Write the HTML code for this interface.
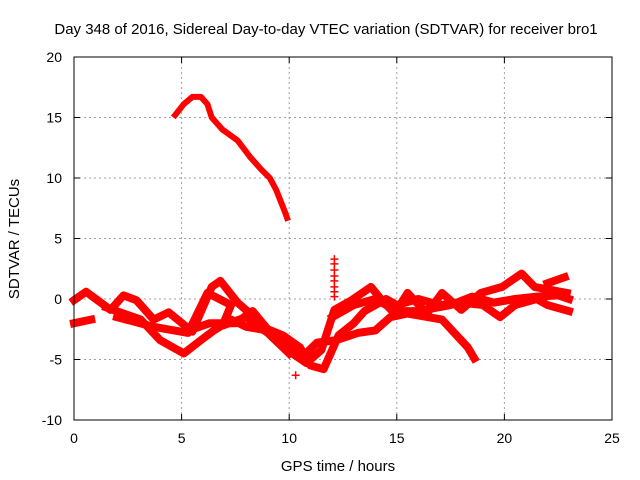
<!DOCTYPE html>
<html><head><meta charset="utf-8"><style>
body{margin:0;background:#fff;}
svg{display:block;font-family:"Liberation Sans",sans-serif;}
</style></head><body>
<svg id="chart" width="640" height="480">
<text x="326" y="34" font-size="15" text-anchor="middle">Day 348 of 2016, Sidereal Day-to-day VTEC variation (SDTVAR) for receiver bro1</text>
<text x="338" y="471" font-size="15" text-anchor="middle">GPS time / hours</text>
<text transform="translate(19,239) rotate(-90)" font-size="15" text-anchor="middle">SDTVAR / TECUs</text>
<g id="grid"></g><g id="ticks"></g><g id="marks"></g>
<rect x="74" y="57" width="538" height="363" fill="none" stroke="#000" stroke-width="1"/>
</svg>
<script>
const xTicks=[0,5,10,15,20,25];
const yTicks=[-10,-5,0,5,10,15,20];
const seriesTop=[[4.7,15.2],[5.1,16.1],[5.5,16.7],[5.9,16.7],[6.2,16.1],[6.4,15],[6.9,14],[7.6,13.1],[8.2,11.7],[8.7,10.7],[9.1,10],[9.4,9],[9.8,7.2],[9.9,6.7]];
const seriesA=[[0,-0.1],[0.56,0.6],[1.7,-0.9],[2.3,0.3],[2.9,-0.1],[3.7,-1.7],[4.4,-1.1],[5.5,-2.7],[6.4,1.0],[6.8,1.5],[7.6,-0.3],[8.7,-2],[9.9,-4.2],[10.8,-5.3],[11.5,-4.2],[12.1,-0.9],[12.9,-0.1],[13.8,1],[14.3,-0.1],[14.9,-1.2],[15.5,0.5],[16.4,-1.2],[17.1,0.5],[18,-0.9],[18.9,0.5],[19.9,1],[20.8,2.1],[21.4,1],[22.9,0.5]];
const seriesB=[[1.5,-0.7],[3.1,-1.7],[4,-3.4],[5.1,-4.5],[5.9,-3.4],[6.5,-2.6],[7.3,-1.7],[8,-2.3],[9,-2.6],[9.8,-3.6],[10.6,-4.8],[11.3,-3.6],[12.2,-3.4],[13.2,-2.8],[14,-2.6],[14.7,-1.5],[15.5,-1.2],[17.1,-1.7],[18.3,-4],[18.6,-4.9]];
const seriesC=[[0,-2],[0.8,-1.7]];
const seriesD=[[2,-1.5],[3.7,-2.3],[5.3,-2.8],[6.2,0.5],[7.3,-0.5],[6.9,-2.2],[8,-1.5],[9,-2.8],[10,-4.5]];
const seriesE=[[5.5,-2.5],[6.3,-2],[7.5,-2],[8.3,-1],[9,-2.5],[9.7,-3],[10.5,-4],[11,-5.5],[11.6,-5.8],[12.3,-3],[13,-2],[13.5,-1],[14.5,0],[15,-0.5],[16,0],[17,-0.5],[18,-0.3],[19,-0.5],[19.8,-1.5],[20.5,-0.5],[21.5,0],[22,-0.5],[23,-1]];
const seriesF=[[12,-1.5],[13,-0.5],[14,0],[15,-1],[16,-1],[17.5,-0.5],[18.5,0.2],[19.5,-0.3],[20.5,0],[21.5,0.2],[22.5,0.3],[23,0]];
const seriesG=[[22,1.3],[22.8,1.8]];
const spikeX=[12.1,12.1,12.1,12.1,12.1,12.1,12.1,12.1,10.3];
const spikeY=[3.3,2.9,2.4,1.9,1.5,1.0,0.6,0.2,-6.3];
const ns="http://www.w3.org/2000/svg";
const X=v=>74+v*(538/25), Y=v=>299-v*(363/30);
const grid=document.getElementById('grid'),ticks=document.getElementById('ticks'),marks=document.getElementById('marks');
function mk(t,a,p){const e=document.createElementNS(ns,t);for(const k in a)e.setAttribute(k,a[k]);p.appendChild(e);return e;}
xTicks.forEach(t=>{
 if(t>0&&t<25){const g=mk('line',{x1:X(t),x2:X(t),y1:57,y2:420,stroke:'#a0a0a0','stroke-dasharray':'2,3'},grid);
 
 }
 mk('line',{x1:X(t),x2:X(t),y1:420,y2:414,stroke:'#000'},ticks);
 mk('line',{x1:X(t),x2:X(t),y1:57,y2:63,stroke:'#000'},ticks);
 const l=mk('text',{x:X(t),y:443,'font-size':14,'text-anchor':'middle'},ticks);l.textContent=t;
 
 
});
yTicks.forEach(t=>{
 if(t>-10&&t<20){const g=mk('line',{x1:74,x2:612,y1:Y(t),y2:Y(t),stroke:'#a0a0a0','stroke-dasharray':'2,3'},grid);
 
 }
 mk('line',{x1:74,x2:80,y1:Y(t),y2:Y(t),stroke:'#000'},ticks);
 mk('line',{x1:606,x2:612,y1:Y(t),y2:Y(t),stroke:'#000'},ticks);
 const l=mk('text',{x:62,y:Y(t)+5,'font-size':14,'text-anchor':'end'},ticks);l.textContent=t;
 
 
});
[seriesTop,seriesA,seriesB,seriesC,seriesD,seriesE,seriesF,seriesG].forEach((s,i)=>{
 const p=mk('polyline',{points:s.map(d=>X(d[0])+','+Y(d[1])).join(' '),fill:'none',stroke:'#ff0000','stroke-width':i==0?6:8,'stroke-linejoin':'round','stroke-linecap':'square'},marks);
 
 
});
spikeX.forEach((x,i)=>{
 const g=mk('path',{d:`M${X(x)-4},${Y(spikeY[i])}h8M${X(x)},${Y(spikeY[i])-4}v8`,stroke:'#ff0000','stroke-width':1.5},marks);
 
 
});
</script>
</body></html>
